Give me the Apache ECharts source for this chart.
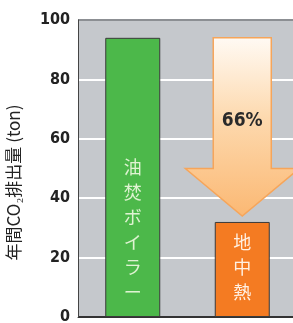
<!DOCTYPE html>
<html>
<head>
<meta charset="utf-8">
<script src="https://cdn.jsdelivr.net/npm/echarts@6/dist/echarts.min.js"></script>
<style>
    html, body { margin: 0; padding: 0; background: #fff; }
    #chart { width: 293px; height: 323px; }
</style>
</head>
<body>
<div id="chart"></div>
<script>
// 年間CO2排出量の比較
const categories = ['油焚ボイラー', '地中熱'];
const emissions = [94, 32];
const barColors = ['#4cb84a', '#f47b22'];
const barTextColors = ['#dff3d2', '#fff0e2'];
// 矢印: [カテゴリ, 上端, 矢じり付け根, 先端]
const arrowData = [[1, 94, 50, 34]];
const arrowLabel = '66%';
const arrowLabelValue = 66;
const yTicks = [0, 20, 40, 60, 80, 100];

const narrowFont = '"DejaVu Sans Condensed", "Liberation Sans", sans-serif';

const chartDom = document.getElementById('chart');
const myChart = echarts.init(chartDom);

const option = {
    backgroundColor: '#fff',
    animation: false,
    grid: {
        top: 20,
        left: 78,
        right: -4,
        bottom: 6,
        show: true,
        backgroundColor: '#c5c8cc',
        borderWidth: 0,
        outerBoundsMode: 'none',
    },
    xAxis: {
        type: 'category',
        data: categories,
        axisTick: { show: false },
        axisLabel: { show: false },
        axisLine: {
            lineStyle: { color: '#333', width: 1 },
        },
    },
    yAxis: {
        type: 'value',
        min: yTicks[0],
        max: yTicks[yTicks.length - 1],
        interval: 20,
        name: '年間CO₂排出量 (ton)',
        nameLocation: 'middle',
        nameRotate: 90,
        nameGap: 56,
        nameTextStyle: {
            color: '#222',
            fontSize: 17,
            fontFamily: 'Noto Sans CJK JP',
            padding: [0, 28, 0, 0],
        },
        axisLine: {
            show: true,
            lineStyle: { color: '#444', width: 1 },
        },
        axisTick: { show: false },
        axisLabel: {
            color: '#222',
            fontSize: 16,
            fontWeight: 'bold',
            fontFamily: narrowFont,
            margin: 8,
        },
        splitLine: {
            lineStyle: {
                width: 2,
                color: ['#333', '#fff', '#fff', '#fff', '#fff', '#8c8f93'],
            },
        },
    },
    series: [
        {
            type: 'bar',
            barWidth: 55,
            data: emissions.map((v, i) => ({
                value: v,
                itemStyle: { color: barColors[i] },
                label: { color: barTextColors[i] },
            })),
            itemStyle: {
                borderColor: '#3a3a3a',
                borderWidth: 1,
            },
            label: {
                show: true,
                position: 'insideBottom',
                distance: 12,
                fontSize: 18,
                lineHeight: 25,
                fontFamily: 'Noto Sans CJK JP',
                formatter: p => p.name.split('').join('\n'),
            },
            z: 2,
        },
        {
            type: 'custom',
            data: arrowData,
            z: 3,
            renderItem: (params, api) => {
                const cat = api.value(0);
                const top = api.coord([cat, api.value(1)]);
                const base = api.coord([cat, api.value(2)]);
                const tip = api.coord([cat, api.value(3)]);
                const band = api.size([1, 0])[0];
                const bodyHalf = band * 0.265;
                const headHalf = band * 0.52;
                const cx = top[0];
                const textPos = api.coord([cat, arrowLabelValue]);
                return {
                    type: 'group',
                    children: [
                        {
                            type: 'polygon',
                            shape: {
                                points: [
                                    [cx - bodyHalf, top[1]],
                                    [cx + bodyHalf, top[1]],
                                    [cx + bodyHalf, base[1]],
                                    [cx + headHalf, base[1]],
                                    [cx, tip[1]],
                                    [cx - headHalf, base[1]],
                                    [cx - bodyHalf, base[1]],
                                ],
                            },
                            style: {
                                fill: new echarts.graphic.LinearGradient(0, 0, 0, 1, [
                                    { offset: 0, color: '#fffaf4' },
                                    { offset: 0.45, color: '#fdd9ae' },
                                    { offset: 1, color: '#fbb873' },
                                ]),
                                stroke: '#f6a55a',
                                lineWidth: 1.5,
                            },
                        },
                        {
                            type: 'text',
                            x: textPos[0],
                            y: textPos[1],
                            style: {
                                text: arrowLabel,
                                fill: '#2a2a2a',
                                fontSize: 19,
                                fontWeight: 'bold',
                                fontFamily: narrowFont,
                                align: 'center',
                                verticalAlign: 'middle',
                            },
                        },
                    ],
                };
            },
        },
    ],
};
myChart.setOption(option);
window.addEventListener('resize', () => {
    myChart.resize();
});
</script>
</body>
</html>
